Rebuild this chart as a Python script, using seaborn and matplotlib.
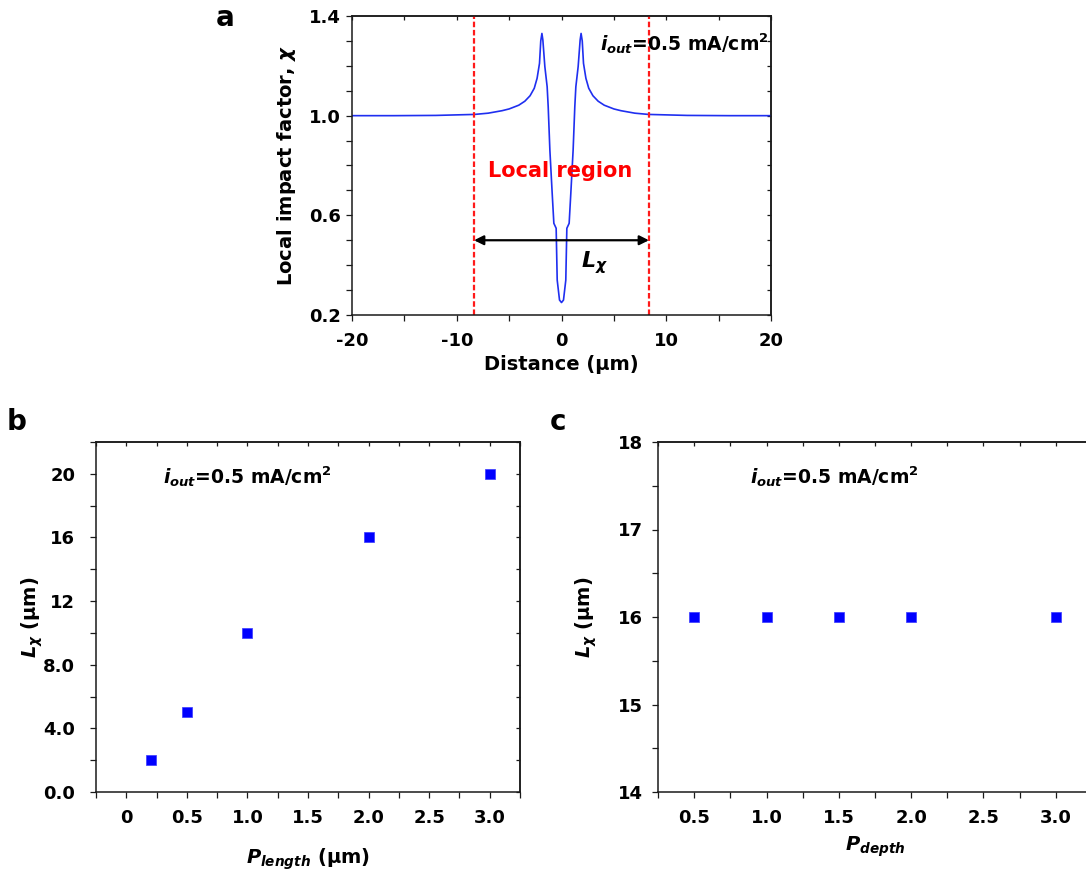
import numpy as np
import pandas as pd
import matplotlib
matplotlib.use("Agg")
import matplotlib.pyplot as plt
from matplotlib.ticker import MultipleLocator, FixedLocator
import seaborn as sns

# ---------------- data ----------------
# panel a: local impact factor vs distance
dist_um = [-20, -16, -12, -8.3, -7.0, -5.67, -5.0, -4.08, -3.5, -3.0, -2.6, -2.33, -2.10,
           -1.98, -1.87, -1.78, -1.59, -1.37, -1.27, -1.11, -0.89, -0.73, -0.51, -0.41,
           -0.19, 0.0,
           0.19, 0.41, 0.51, 0.73, 0.89, 1.11, 1.27, 1.37, 1.59, 1.78, 1.87, 1.98,
           2.10, 2.33, 2.6, 3.0, 3.5, 4.08, 5.0, 5.67, 7.0, 8.3, 12, 16, 20]
chi = [1.0, 1.0, 1.001, 1.005, 1.01, 1.02, 1.027, 1.042, 1.058, 1.08, 1.11, 1.15, 1.21,
       1.30, 1.33, 1.304, 1.197, 1.116, 1.036, 0.862, 0.689, 0.568, 0.548, 0.34,
       0.26, 0.25,
       0.26, 0.34, 0.548, 0.568, 0.689, 0.862, 1.036, 1.116, 1.197, 1.304, 1.33, 1.30,
       1.21, 1.15, 1.11, 1.08, 1.058, 1.042, 1.027, 1.02, 1.01, 1.005, 1.001, 1.0, 1.0]
local_bounds = [-8.35, 8.35]
arrow_y = 0.5

# panel b: L_chi vs P_length
p_length = [0.2, 0.5, 1.0, 2.0, 3.0]
lchi_length = [2, 5, 10, 16, 20]
b_xticks = [0, 0.5, 1.0, 1.5, 2.0, 2.5, 3.0]
b_xticklabels = ["0", "0.5", "1.0", "1.5", "2.0", "2.5", "3.0"]
b_yticks = [0, 4, 8, 12, 16, 20]
b_yticklabels = ["0.0", "4.0", "8.0", "12", "16", "20"]

# panel c: L_chi vs P_depth
p_depth = [0.5, 1.0, 1.5, 2.0, 3.0]
lchi_depth = [16, 16, 16, 16, 16]
c_xticks = [0.5, 1.0, 1.5, 2.0, 2.5, 3.0]
c_xticklabels = ["0.5", "1.0", "1.5", "2.0", "2.5", "3.0"]
c_yticks = [14, 15, 16, 17, 18]

a_xticks = [-20, -10, 0, 10, 20]
a_yticks = [0.2, 0.6, 1.0, 1.4]
a_yticklabels = ["0.2", "0.6", "1.0", "1.4"]

# ---------------- style ----------------
sns.set_theme(style="ticks")
plt.rcParams["font.family"] = ["DejaVu Sans"]
plt.rcParams["font.weight"] = "bold"
plt.rcParams["axes.labelweight"] = "bold"
plt.rcParams["axes.unicode_minus"] = False
plt.rcParams["text.color"] = "black"
plt.rcParams["axes.labelcolor"] = "black"
plt.rcParams["xtick.color"] = "black"
plt.rcParams["ytick.color"] = "black"
plt.rcParams["mathtext.fontset"] = "custom"
plt.rcParams["mathtext.it"] = "DejaVu Sans:italic:bold"
plt.rcParams["mathtext.rm"] = "DejaVu Sans:bold"
plt.rcParams["mathtext.bf"] = "DejaVu Sans:bold"
plt.rcParams["mathtext.default"] = "it"

TICK_FS = 13
LABEL_FS = 14
SPINE = "#1a1a1a"
LW = 1.1

fig = plt.figure(figsize=(10.86, 8.73), dpi=100)
W, H = 1086, 873


def add_ax(left, right, top, bottom):
    return fig.add_axes([left / W, 1 - bottom / H, (right - left) / W, (bottom - top) / H])


def style(ax, xmaj, xmin, ymaj, ymin, xlabels=None, ylabels=None, ypad=4):
    ax.set_facecolor("white")
    for s in ax.spines.values():
        s.set_visible(True)
        s.set_color(SPINE)
        s.set_linewidth(LW)
    ax.xaxis.set_major_locator(FixedLocator(xmaj))
    ax.yaxis.set_major_locator(FixedLocator(ymaj))
    ax.xaxis.set_minor_locator(MultipleLocator(xmin))
    ax.yaxis.set_minor_locator(MultipleLocator(ymin))
    if xlabels is not None:
        ax.set_xticklabels(xlabels)
    if ylabels is not None:
        ax.set_yticklabels(ylabels)
    ax.tick_params(which="both", direction="out", length=4, width=0.9, color=SPINE,
                   labelsize=TICK_FS, labelcolor="black")
    ax.tick_params(axis="x", which="both", pad=8.5)
    ax.tick_params(axis="y", which="both", pad=ypad)
    for lab in ax.get_xticklabels() + ax.get_yticklabels():
        lab.set_fontweight("bold")
    top = ax.secondary_xaxis("top")
    top.xaxis.set_major_locator(FixedLocator(xmaj))
    top.xaxis.set_minor_locator(MultipleLocator(xmin))
    top.tick_params(which="both", direction="in", length=3.2, width=0.9, color=SPINE,
                    labeltop=False)
    top.spines["top"].set_color(SPINE)
    top.spines["top"].set_linewidth(LW)
    right = ax.secondary_yaxis("right")
    right.yaxis.set_major_locator(FixedLocator(ymaj))
    right.yaxis.set_minor_locator(MultipleLocator(ymin))
    right.tick_params(which="both", direction="in", length=3.2, width=0.9, color=SPINE,
                      labelright=False)
    right.spines["right"].set_color(SPINE)
    right.spines["right"].set_linewidth(LW)


iout_label = r"$i_{out}$=0.5 mA/cm$^{\mathrm{2}}$"

# ---------------- panel a ----------------
ax_a = add_ax(352, 771, 16, 315)
ax_a.set_xlim(-20, 20)
ax_a.set_ylim(0.2, 1.4)
df_a = pd.DataFrame({"x": dist_um, "y": chi})
sns.lineplot(data=df_a, x="x", y="y", ax=ax_a, color="#1f2ff0", lw=1.2,
             estimator=None, sort=False)
for xb in local_bounds:
    ax_a.axvline(xb, color="#ff1a1a", lw=1.6, dashes=(2.5, 1.2))
ax_a.annotate("", xy=(local_bounds[0], arrow_y), xytext=(local_bounds[1], arrow_y),
              arrowprops=dict(arrowstyle="<|-|>", color="black", lw=1.6,
                              mutation_scale=14, shrinkA=0, shrinkB=0))
ax_a.text(-7.0, 0.778, "Local region", color="#ff0000", fontsize=15,
          fontweight="bold", ha="left", va="center")
ax_a.text(1.9, 0.41, r"$L_{\chi}$", fontsize=16, ha="left", va="center")
ax_a.text(3.7, 1.29, iout_label, fontsize=13.5, fontweight="bold", ha="left", va="center")
style(ax_a, a_xticks, 5, a_yticks, 0.1, None, a_yticklabels, ypad=4)
ax_a.set_xlabel("Distance (μm)", fontsize=LABEL_FS, fontweight="bold", labelpad=3)
ax_a.set_ylabel(r"Local impact factor, $\chi$", fontsize=LABEL_FS, fontweight="bold",
                labelpad=8)

# ---------------- panel b ----------------
ax_b = add_ax(96, 520, 442, 792)
ax_b.set_xlim(-0.25, 3.25)
ax_b.set_ylim(0, 22)
df_b = pd.DataFrame({"x": p_length, "y": lchi_length})
sns.scatterplot(data=df_b, x="x", y="y", ax=ax_b, marker="s", s=48, color="#0000ff",
                edgecolor="#3a3aff", linewidth=0.5)
ax_b.text(0.30, 19.8, iout_label, fontsize=13.5, fontweight="bold", ha="left", va="center")
style(ax_b, b_xticks, 0.25, b_yticks, 2, b_xticklabels, b_yticklabels, ypad=11)
ax_b.set_xlabel(r"$P_{length}$ (μm)", fontsize=LABEL_FS, fontweight="bold", labelpad=14)
ax_b.set_ylabel(r"$L_{\chi}$ (μm)", fontsize=LABEL_FS, fontweight="bold", labelpad=-1)

# ---------------- panel c ----------------
ax_c = add_ax(658, 1092, 442, 792)
ax_c.set_xlim(0.25, 3.25)
ax_c.set_ylim(14, 18)
df_c = pd.DataFrame({"x": p_depth, "y": lchi_depth})
sns.scatterplot(data=df_c, x="x", y="y", ax=ax_c, marker="s", s=48, color="#0000ff",
                edgecolor="#3a3aff", linewidth=0.5)
ax_c.text(0.885, 17.6, iout_label, fontsize=13.5, fontweight="bold", ha="left", va="center")
style(ax_c, c_xticks, 0.25, c_yticks, 0.5, c_xticklabels, None, ypad=6.5)
ax_c.set_xlabel(r"$P_{depth}$", fontsize=LABEL_FS, fontweight="bold", labelpad=5)
ax_c.set_ylabel(r"$L_{\chi}$ (μm)", fontsize=LABEL_FS, fontweight="bold", labelpad=14)

# panel letters
fig.text(225 / W, 1 - 18 / H, "a", fontsize=20, fontweight="bold", ha="center", va="center")
fig.text(17 / W, 1 - 422 / H, "b", fontsize=20, fontweight="bold", ha="center", va="center")
fig.text(558 / W, 1 - 422 / H, "c", fontsize=20, fontweight="bold", ha="center", va="center")

fig.savefig("out.png", dpi=100, facecolor="white")
